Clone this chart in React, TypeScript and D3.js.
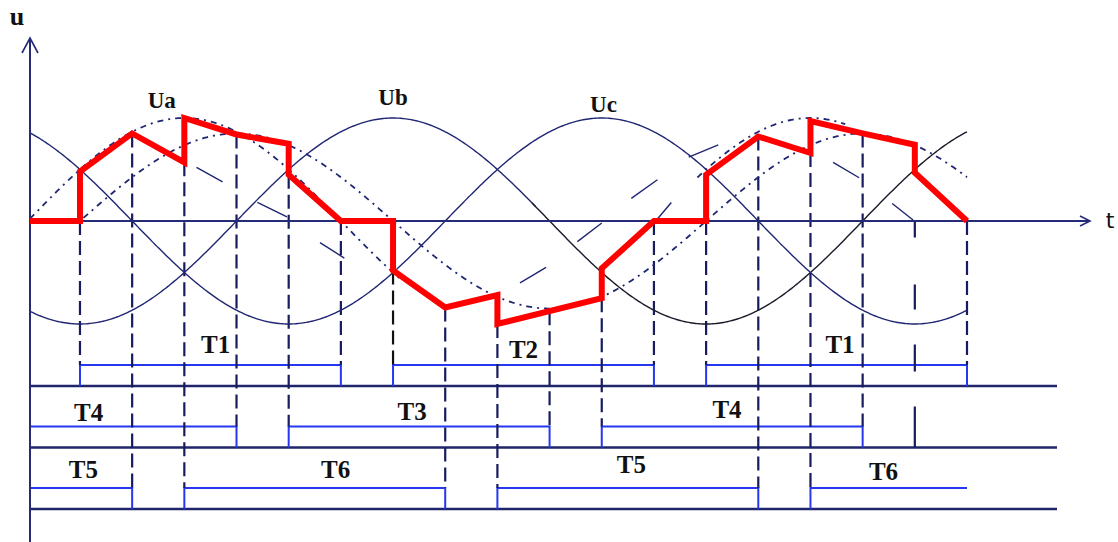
import React, { useEffect, useRef } from "react";
import * as d3 from "d3";

// three-phase supply: name, phase lag (deg), label position (deg)
const phaseNames = ["Ua", "Ub", "Uc"];
const phaseShift = [0, 120, 240];
const phaseLabelTheta = [77, 210, 331];

// dash-dot reference wave
const refAmp = 0.85;
const refShift = 30;

// output voltage (red), vertices in (deg, per-unit)
const outTheta = [0, 30, 30, 60, 90, 90, 120, 150, 150, 180, 210, 210, 240, 270, 270, 330, 330, 360, 390, 390, 420, 450, 450, 480, 510, 510, 540];
const outU = [0, 0, 0.48, 0.85, 0.57, 1.0, 0.84, 0.75, 0.45, 0, 0, -0.48, -0.84, -0.72, -1.0, -0.75, -0.46, 0, 0, 0.45, 0.82, 0.66, 0.97, 0.85, 0.74, 0.47, 0];

// gate pulses
const pulseName = ["T1", "T2", "T1", "T4", "T3", "T4", "T5", "T6", "T5", "T6"];
const pulseRow = [0, 0, 0, 1, 1, 1, 2, 2, 2, 2];
const pulseOn = [30, 210, 390, 0, 150, 330, 0, 90, 270, 450];
const pulseOff = [180, 360, 540, 120, 300, 480, 60, 240, 420, 540];
const pulseClosed = [true, true, true, true, true, true, true, true, true, false];
const pulseLabelTheta = [108, 285, 467, 35, 221, 402, 32, 177, 347, 492];

// stray short strokes left in the drawing
const fragTheta1 = [97, 132, 168, 283, 316, 347, 380, 361, 463, 497];
const fragU1 = [0.52, 0.18, -0.21, -0.6, -0.2, 0.22, 0.62, 0, 0.57, 0.17];
const fragTheta2 = [112, 149, 182, 298, 330, 362, 397, 370, 478, 509];
const fragU2 = [0.38, 0.04, -0.36, -0.45, -0.02, 0.4, 0.74, 0.18, 0.42, 0.01];

const W = 1118;
const H = 542;
const NAVY = "#1f2672";
const labelLift = [12, 7, 12, 6, 7, 9, 10, 10, 15, 8];

const App = () => {
  const ref = useRef<SVGSVGElement>(null);

  useEffect(() => {
    const svg = d3.select(ref.current);
    svg.selectAll("*").remove();

    const x = d3.scaleLinear().domain([0, 540]).range([27.8, 967]);
    const y = d3.scaleLinear().domain([-1, 1]).range([324, 118]);
    const rowY = d3.scaleLinear().domain([0, 2]).range([386, 509]);
    const pulseH = 21;
    const axisX = 30;
    const tMin = x.invert(axisX);
    const y0 = y(0);

    const wave = (shift: number, amp: number, a: number, b: number) =>
      d3.range(a, b + 0.001, 1).concat([b]).map((t) => [t, amp * Math.sin(((t - shift) * Math.PI) / 180)] as [number, number]);
    const line = d3
      .line<[number, number]>()
      .x((d) => x(d[0]))
      .y((d) => y(d[1]));

    // row baselines
    svg
      .append("g")
      .selectAll("line")
      .data([0, 1, 2])
      .enter()
      .append("line")
      .attr("x1", axisX)
      .attr("x2", 1057)
      .attr("y1", (d) => rowY(d))
      .attr("y2", (d) => rowY(d))
      .attr("stroke", "#20246a")
      .attr("stroke-width", 2.4);

    // pulses
    const pulses = pulseName.map((n, i) => ({
      n,
      row: pulseRow[i],
      on: pulseOn[i],
      off: pulseOff[i],
      closed: pulseClosed[i],
      lt: pulseLabelTheta[i],
      lift: labelLift[i],
    }));
    const pg = svg.append("g").attr("fill", "none").attr("stroke", "#2538f0").attr("stroke-width", 2);
    pulses.forEach((p) => {
      const top = rowY(p.row) - pulseH;
      const base = rowY(p.row);
      const x1 = Math.max(axisX, x(p.on));
      const x2 = x(p.off);
      let dstr = "";
      if (p.on > 0) dstr += `M${x1},${base}V${top}`;
      else dstr += `M${x1},${top}`;
      dstr += `H${x2}`;
      if (p.closed) dstr += `V${base}`;
      pg.append("path").attr("d", dstr);
    });

    // lowest point of the red trace at an angle (vertex or interpolated)
    const startY = (t: number) => {
      const ys: number[] = [];
      for (let i = 0; i < outTheta.length; i++) {
        if (outTheta[i] === t) ys.push(y(outU[i]));
        if (i < outTheta.length - 1 && outTheta[i] < t && outTheta[i + 1] > t) {
          const f = (t - outTheta[i]) / (outTheta[i + 1] - outTheta[i]);
          ys.push(y(outU[i] + f * (outU[i + 1] - outU[i])));
        }
      }
      return ys.length ? Math.max(...ys) : y0;
    };

    // dashed verticals at switching instants
    const edges: { t: number; row: number }[] = [];
    pulses.forEach((p) => {
      if (p.on > 0) edges.push({ t: p.on, row: p.row });
      if (p.closed) edges.push({ t: p.off, row: p.row });
    });
    svg
      .append("g")
      .selectAll("line")
      .data(edges)
      .enter()
      .append("line")
      .attr("x1", (d) => x(d.t))
      .attr("x2", (d) => x(d.t))
      .attr("y1", (d) => startY(d.t))
      .attr("y2", (d) => rowY(d.row) - pulseH)
      .attr("stroke", (d) => (d.t === 210 ? "#111" : "#161c5e"))
      .attr("stroke-width", 2.2)
      .attr("stroke-dasharray", "14,6");

    // long-dash marker at 510 deg
    svg
      .append("line")
      .attr("x1", x(510))
      .attr("x2", x(510))
      .attr("y1", rowY(1))
      .attr("y2", y0)
      .attr("stroke", "#161c5e")
      .attr("stroke-width", 2.2)
      .attr("stroke-dasharray", "41,35,27,35,25,47,17,40");

    // supply phases
    const cg = svg.append("g").attr("fill", "none").attr("stroke-width", 1.4);
    // Ub, Uc solid
    cg.append("path").attr("d", line(wave(phaseShift[1], 1, tMin, 292))).attr("stroke", NAVY);
    cg.append("path").attr("d", line(wave(phaseShift[1], 1, 290, 540))).attr("stroke", "#1a1a2a");
    cg.append("path").attr("d", line(wave(phaseShift[2], 1, tMin, 540))).attr("stroke", NAVY);
    // Ua dash-dot
    [[tMin, 215], [385, 470]].forEach(([a, b]) => {
      cg.append("path")
        .attr("d", line(wave(phaseShift[0], 1, a, b)))
        .attr("stroke", NAVY)
        .attr("stroke-width", 1.8)
        .attr("stroke-dasharray", "6,5,2,5");
    });
    // reference wave dash-dot
    cg.append("path")
      .attr("d", line(wave(refShift, refAmp, 32, 540)))
      .attr("stroke", NAVY)
      .attr("stroke-width", 1.8)
      .attr("stroke-dasharray", "6,5,2,5");

    // stray strokes
    svg
      .append("g")
      .selectAll("line")
      .data(fragTheta1.map((t, i) => [t, fragU1[i], fragTheta2[i], fragU2[i]]))
      .enter()
      .append("line")
      .attr("x1", (d) => x(d[0]))
      .attr("y1", (d) => y(d[1]))
      .attr("x2", (d) => x(d[2]))
      .attr("y2", (d) => y(d[3]))
      .attr("stroke", NAVY)
      .attr("stroke-width", 1.4);

    // axes
    const ag = svg.append("g").attr("stroke", "#262b78").attr("stroke-width", 2).attr("fill", "none");
    ag.append("line").attr("x1", axisX).attr("x2", axisX).attr("y1", 38).attr("y2", H);
    ag.append("path").attr("d", `M${axisX - 8},53L${axisX},38L${axisX + 8},53`).attr("stroke-width", 1.6);
    ag.append("line").attr("x1", axisX).attr("x2", 1090).attr("y1", y0).attr("y2", y0);
    ag.append("path").attr("d", `M1080,${y0 - 5}L1090,${y0}L1080,${y0 + 5}`).attr("stroke-width", 1.6);

    // output voltage
    const out = outTheta.map((t, i) => [Math.max(t, tMin), outU[i]] as [number, number]);
    svg
      .append("path")
      .attr("d", line(out))
      .attr("fill", "none")
      .attr("stroke", "#ff0000")
      .attr("stroke-width", 6)
      .attr("stroke-linejoin", "miter");

    // labels
    const serif = "'Liberation Serif', 'Times New Roman', serif";
    const tg = svg.append("g").attr("font-family", serif).attr("font-weight", "bold").attr("fill", "#111");
    pulses.forEach((p) => {
      tg.append("text")
        .attr("x", x(p.lt))
        .attr("y", rowY(p.row) - pulseH - p.lift)
        .attr("text-anchor", "middle")
        .attr("font-size", 25)
        .text(p.n);
    });
    const phaseLift = [10, 13, 6];
    phaseNames.forEach((n, i) => {
      tg.append("text")
        .attr("x", x(phaseLabelTheta[i]))
        .attr("y", y(1) - phaseLift[i])
        .attr("text-anchor", "middle")
        .attr("font-size", 23)
        .text(n);
    });
    tg.append("text").attr("x", 17).attr("y", 25).attr("text-anchor", "middle").attr("font-size", 26).text("u");
    svg
      .append("text")
      .attr("x", 1110)
      .attr("y", y0 + 7)
      .attr("text-anchor", "middle")
      .attr("font-family", "'DejaVu Sans', sans-serif")
      .attr("font-size", 22)
      .attr("fill", "#111")
      .text("t");
  }, []);

  return (
    <svg
      ref={ref}
      width={W}
      height={H}
      style={{ position: "absolute", left: 0, top: 0, background: "#fff" }}
    />
  );
};

export default App;
